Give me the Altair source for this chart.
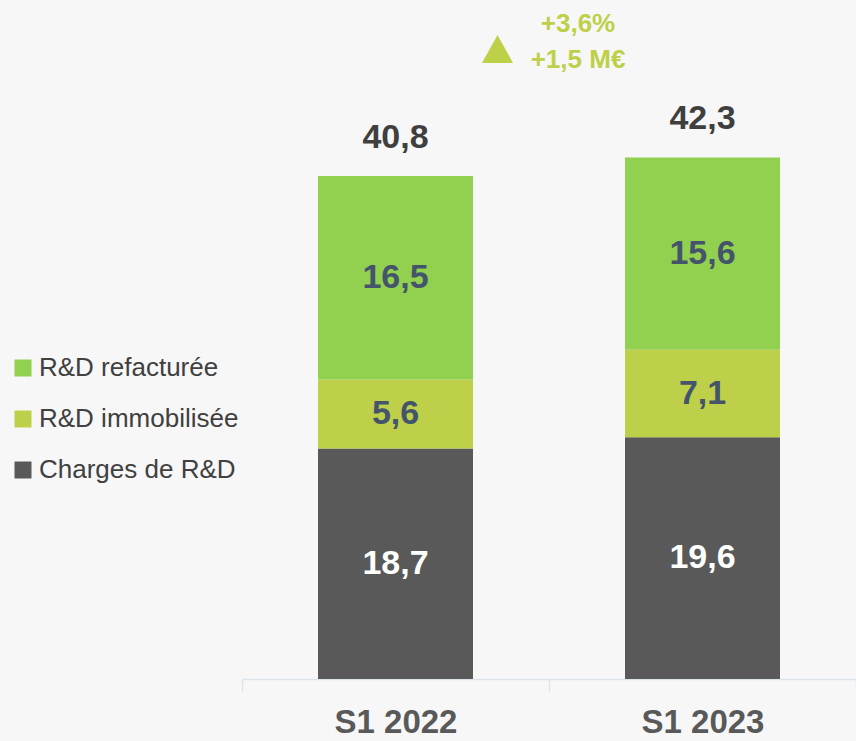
import altair as alt
import pandas as pd

periods = ["S1 2022", "S1 2023"]
stack_order = ["Charges de R&D", "R&D immobilisée", "R&D refacturée"]
legend_order = ["R&D refacturée", "R&D immobilisée", "Charges de R&D"]
charges = [18.7, 19.6]
immobilisee = [5.6, 7.1]
refacturee = [16.5, 15.6]
totals = [40.8, 42.3]
annotation_lines = ["+3,6%", "+1,5 M€"]

series_values = {
    "Charges de R&D": charges,
    "R&D immobilisée": immobilisee,
    "R&D refacturée": refacturee,
}
series_colors = {
    "Charges de R&D": "#595959",
    "R&D immobilisée": "#BED04A",
    "R&D refacturée": "#92D050",
}
label_colors = {
    "Charges de R&D": "#FFFFFF",
    "R&D immobilisée": "#44546A",
    "R&D refacturée": "#44546A",
}


def fr(v):
    return f"{v:.1f}".replace(".", ",")


rows = []
for i, p in enumerate(periods):
    base = 0.0
    for s in stack_order:
        v = series_values[s][i]
        rows.append({"period": p, "series": s, "value": v, "lo": base,
                     "hi": base + v, "mid": base + v / 2, "label": fr(v),
                     "lcolor": label_colors[s]})
        base += v
df = pd.DataFrame(rows)
tot_df = pd.DataFrame({"period": periods, "total": totals,
                       "label": [fr(t) for t in totals]})

FONT = "Liberation Sans, Arial, sans-serif"
ANN = "#BDD048"

xenc = alt.X("period:N", sort=periods, title=None,
             scale=alt.Scale(paddingInner=0, paddingOuter=0),
             axis=alt.Axis(labelAngle=0, tickBand="extent", domainColor="#DDE3EA",
                           tickColor="#DDE3EA", tickSize=12, domainWidth=1.5,
                           tickWidth=1.5, labelFont=FONT, labelFontSize=33,
                           labelFontWeight="bold", labelColor="#595959",
                           labelBaseline="alphabetic", labelPadding=41, grid=False))
yscale = alt.Scale(domain=[0, 55.07])

bars = alt.Chart(df).mark_bar(size=155).encode(
    x=xenc,
    y=alt.Y("lo:Q", scale=yscale, axis=None),
    y2="hi:Q",
    color=alt.Color("series:N",
                    scale=alt.Scale(domain=legend_order,
                                    range=[series_colors[s] for s in legend_order]),
                    legend=alt.Legend(title=None, orient="none", legendX=-232,
                                      legendY=355, symbolType="square",
                                      symbolSize=289, symbolStrokeWidth=0,
                                      labelFont=FONT, labelFontSize=26,
                                      labelColor="#404040", rowPadding=25,
                                      labelOffset=3, padding=0, labelLimit=400)),
)

seg_labels = alt.Chart(df).mark_text(font=FONT, fontSize=34, fontWeight="bold",
                                     baseline="middle").encode(
    x=alt.X("period:N", sort=periods),
    y=alt.Y("mid:Q", scale=yscale),
    text="label:N",
    color=alt.Color("lcolor:N", scale=None),
)

tot_labels = alt.Chart(tot_df).mark_text(font=FONT, fontSize=34, fontWeight="bold",
                                         baseline="middle", dy=-38,
                                         color="#3F3F3F").encode(
    x=alt.X("period:N", sort=periods),
    y=alt.Y("total:Q", scale=yscale),
    text="label:N",
)

one = pd.DataFrame({"a": [0]})
tri = alt.Chart(one).mark_point(shape="M-1,0.9L0,-0.9L1,0.9Z", size=961,
                                filled=True, opacity=1, color=ANN,
                                strokeWidth=0).encode(
    x=alt.value(255.5), y=alt.value(49))
ann1 = alt.Chart(one).mark_text(font=FONT, fontSize=26, fontWeight="bold",
                                color=ANN, baseline="middle",
                                text=annotation_lines[0]).encode(
    x=alt.value(336), y=alt.value(24))
ann2 = alt.Chart(one).mark_text(font=FONT, fontSize=26, fontWeight="bold",
                                color=ANN, baseline="middle",
                                text=annotation_lines[1]).encode(
    x=alt.value(336), y=alt.value(60))

chart = alt.layer(bars, seg_labels, tot_labels, tri, ann1, ann2).properties(
    width=614, height=679,
    autosize=alt.AutoSizeParams(type="none"),
    padding={"left": 242, "top": 0, "right": 0, "bottom": 62},
).configure(background="#F7F7F7").configure_view(stroke=None)

chart.save("out.html", embed_options={"renderer": "svg", "actions": False})
